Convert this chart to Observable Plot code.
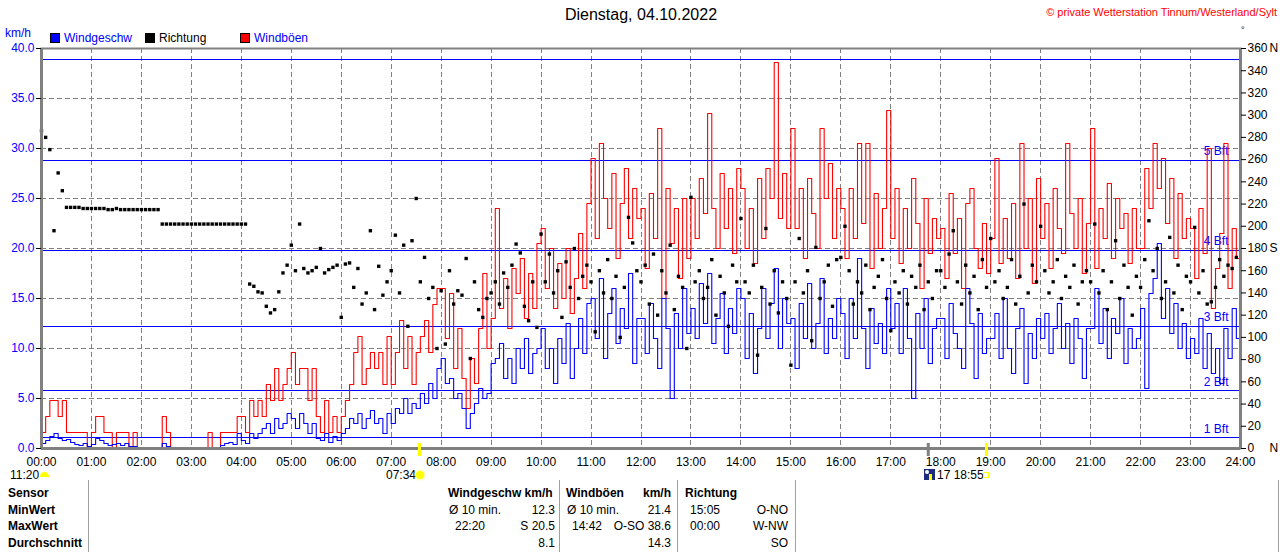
<!DOCTYPE html>
<html><head><meta charset="utf-8">
<script src="https://cdn.jsdelivr.net/npm/d3@7"></script>
<script src="https://cdn.jsdelivr.net/npm/@observablehq/plot@0.6"></script>
<style>
body{margin:0;background:#fff;font-family:"Liberation Sans",Arial,sans-serif;}
#wrap{position:relative;width:1280px;height:552px;overflow:hidden;background:#fff}
#wrap svg{position:absolute;left:0;top:0;overflow:visible}
.t{position:absolute;white-space:nowrap;font-size:12px;line-height:12px;color:#000}
.b{font-weight:bold}
.vl{position:absolute;width:1px;background:#a0a0a0;top:480px;height:72px}
</style></head><body><div id="wrap"></div>
<script>
// ---- data (5-minute samples, 00:00 .. 24:00) ----
const hourLabels = ["00:00","01:00","02:00","03:00","04:00","05:00","06:00","07:00","08:00","09:00","10:00","11:00","12:00","13:00","14:00","15:00","16:00","17:00","18:00","19:00","20:00","21:00","22:00","23:00","24:00"];

// wind speed km/h
const windSpeed = [
 0.5,0.8,1.2,1.5,1.0,0.8,0.9,0.6,0.4,0.3,0.5,0.2,
 0.4,1.0,0.8,0.5,0.3,0.4,0.5,0.3,0.5,0.2,0.2,0.1,
 0,0,0,0,0,0.5,0.2,0,0,0,0,0,
 0,0,0,0,0,0,0,0.3,0.5,0.6,0.4,1.5,
 0.8,0.5,1.5,1.0,1.5,2.0,2.5,1.5,3.0,2.0,2.5,3.5,
 3.0,2.0,3.5,2.5,1.5,2.5,1.0,0.8,1.5,0.6,1.2,0.8,
 1.5,2.0,3.0,2.5,3.5,2.0,3.0,3.8,2.5,3.0,1.5,3.5,
 2.5,4.0,3.5,5.0,3.5,4.5,4.0,5.5,4.5,6.5,5.0,8.0,
 9.0,6.5,7.0,5.0,5.5,4.0,2.0,3.5,4.5,6.0,5.0,5.5,
 8.5,9.0,10.5,7.0,9.0,6.5,10.0,8.0,11.0,7.5,9.5,10.0,
 12.0,8.0,10.0,6.5,11.0,8.5,12.5,7.0,10.0,13.0,9.5,14.5,
 15.0,11.0,17.0,9.0,13.5,16.0,10.5,14.0,12.0,17.5,8.5,13.0,
 13.0,9.5,14.5,11.0,8.0,15.0,12.0,5.0,13.5,10.0,16.0,11.5,
 14.0,11.0,16.5,12.5,17.5,10.5,13.0,15.5,9.5,14.0,11.5,16.0,
 15.0,9.0,13.5,7.5,12.0,16.0,11.0,14.5,18.0,10.0,15.0,12.5,
 13.0,8.0,14.5,11.0,16.5,10.0,12.5,17.0,9.5,13.0,11.0,15.0,
 13.5,9.0,15.0,11.0,19.0,12.0,8.0,14.0,10.5,12.5,9.5,16.0,
 12.0,14.5,9.5,16.0,11.0,5.0,13.5,10.0,15.0,8.5,12.0,13.0,
 13.0,9.0,14.5,11.5,10.0,8.0,16.0,12.5,7.0,13.5,9.5,11.0,
 11.0,13.5,9.0,15.0,10.0,7.5,12.0,14.0,6.5,11.5,9.0,13.0,
 11.0,13.5,9.5,12.0,14.5,10.0,12.5,8.5,13.0,11.0,7.0,12.0,
 12.0,16.0,10.5,14.0,9.0,13.0,11.5,15.0,8.5,12.0,10.0,11.0,
 14.0,6.0,15.5,17.0,20.5,13.0,16.0,11.5,14.5,10.0,12.5,9.0,
 11.0,9.5,13.0,8.0,11.5,7.5,10.0,6.5,12.0,9.0,14.0,11.0,
 13.0
];

// gusts km/h
const windGust = [
 1.6,3.2,4.8,4.8,3.2,4.8,1.6,1.6,1.6,1.6,1.6,0,
 1.6,3.2,3.2,1.6,1.6,0,1.6,1.6,1.6,0,1.6,0,
 0,0,0,0,0,3.2,1.6,0,0,0,0,0,
 0,0,0,0,1.6,0,0,1.6,1.6,1.6,1.6,3.2,
 3.2,1.6,4.8,3.2,4.8,3.2,6.4,4.8,8.0,4.8,6.4,8.0,
 9.6,6.4,8.0,8.0,4.8,8.0,3.2,1.6,4.8,1.6,3.2,1.6,
 3.2,4.8,6.4,9.6,11.2,6.4,8.0,9.6,8.0,9.6,6.4,11.2,
 6.4,9.6,12.8,8.0,11.2,6.4,9.6,11.2,12.8,9.6,14.4,16.0,
 16.0,11.0,15.5,8.0,12.0,7.0,4.0,9.0,6.5,12.0,17.5,10.0,
 13.0,24.0,14.0,17.0,12.0,18.0,15.5,19.0,13.0,17.5,14.0,20.5,
 22.0,16.0,20.0,14.0,18.5,15.0,20.0,13.5,17.0,21.5,16.0,24.5,
 29.0,21.0,30.5,25.0,22.0,27.5,19.0,24.5,28.0,21.0,26.0,23.0,
 24.0,18.0,25.5,21.0,32.0,15.0,26.0,20.5,24.0,17.0,25.0,19.0,
 25.0,21.0,27.0,23.5,33.5,24.0,20.0,27.5,22.0,26.0,19.5,28.0,
 26.0,20.0,24.0,18.5,27.0,21.0,28.0,25.0,38.6,23.0,27.5,22.0,
 32.0,22.0,26.0,19.0,27.0,23.5,20.0,32.0,25.0,28.5,21.0,26.0,
 24.0,19.0,26.0,21.0,30.5,22.5,30.5,18.0,25.5,20.0,24.0,33.8,
 21.0,26.0,18.5,24.0,20.0,27.0,22.5,16.0,25.0,19.5,23.0,21.0,
 22.0,17.0,25.5,19.5,23.0,16.0,24.5,26.0,20.0,18.0,22.5,17.5,
 21.0,29.0,18.5,23.0,19.0,24.5,17.0,30.5,20.0,25.0,16.5,27.0,
 21.0,24.5,18.0,26.0,22.0,19.5,30.5,23.5,20.0,25.0,17.5,22.5,
 32.0,18.0,24.0,21.0,26.5,19.0,25.0,22.0,23.5,18.5,24.0,20.0,
 20.0,28.0,24.0,30.5,26.0,29.0,22.5,27.0,19.0,25.5,21.0,23.0,
 22.0,17.0,24.0,19.5,30.0,14.0,18.0,21.5,30.5,16.0,22.0,19.0,
 22.0
];

// wind direction degrees
const windDir = [
 286,280,269,196,248,232,217,217,217,217,216,216,
 216,216,216,216,215,215,216,215,215,215,215,215,
 215,215,215,215,215,202,202,202,202,202,202,202,
 202,202,202,202,202,202,202,202,202,202,202,202,
 202,202,148,146,141,140,128,122,125,141,158,165,
 183,160,202,162,158,160,163,180,158,161,163,165,
 118,166,167,145,162,130,140,196,125,164,138,150,
 160,192,140,183,110,187,225,150,172,135,145,90,
 142,94,160,130,142,138,171,81,150,125,118,135,
 140,150,130,158,145,165,184,176,128,115,150,109,
 193,150,175,140,160,118,168,145,180,135,155,165,
 150,105,160,140,170,135,155,100,145,208,185,160,
 150,165,130,175,120,160,140,183,125,155,145,90,
 226,150,160,135,145,170,120,155,140,110,165,150,
 207,150,140,165,84,145,198,130,160,122,150,135,
 75,150,189,140,160,97,181,135,150,165,128,170,
 172,200,160,130,150,140,165,125,145,155,170,135,
 106,150,140,160,130,155,145,165,125,150,135,160,
 160,145,175,196,150,130,165,140,155,125,170,145,
 189,150,160,135,145,170,130,155,220,140,165,150,
 200,160,140,150,170,135,155,145,165,130,150,160,
 150,202,140,160,125,150,187,135,165,145,120,155,
 145,170,205,160,180,135,150,190,140,165,125,155,
 150,199,140,160,130,132,145,170,155,165,162,172
];

// Beaufort thresholds (km/h) and labels
const bftValues = [1.08, 5.76, 12.24, 19.8, 28.8, 38.88];
const bftLabels = ["1 Bft","2 Bft","3 Bft","4 Bft","5 Bft",""];
const leftTicks = [0,5,10,15,20,25,30,35,40];
const degTicks = [0,20,40,60,80,100,120,140,160,180,200,220,240,260,280,300,320,340,360];
const degLetters = [{deg:360,l:"N"},{deg:180,l:"S"},{deg:0,l:"N"}];
const sunrise = 7 + 34/60, sunset = 18 + 55/60, moonMark = 17 + 45/60;

// ---- build ----
const rows = windSpeed.map((v, i) => ({t: i / 12, speed: v, gust: windGust[i]}));
const dirRows = windDir.map((v, i) => ({t: i / 12, deg: v}));
const bft = bftValues.map((v, i) => ({v, label: bftLabels[i]}));
const degScale = d => d / 9; // 360° -> 40 km/h

const grey = "#808080";
const chart = Plot.plot({
  width: 1280, height: 475,
  marginLeft: 41, marginRight: 40, marginTop: 48, marginBottom: 27,
  x: {domain: [0, 24], label: null},
  y: {domain: [0, 40], label: null},
  style: {fontFamily: "Liberation Sans, Arial, sans-serif", fontSize: "12px", background: "transparent", overflow: "visible"},
  marks: [
    Plot.ruleX(d3.range(1, 24), {stroke: grey, strokeDasharray: "5,3", shapeRendering: "crispEdges"}),
    Plot.ruleY(leftTicks.filter(d => d > 0 && d < 40), {stroke: grey, strokeDasharray: "5,3", shapeRendering: "crispEdges"}),
    Plot.ruleY(bft, {y: "v", stroke: "#0000ff", strokeWidth: 1, shapeRendering: "crispEdges"}),
    Plot.text(bft, {x: () => 24, y: "v", text: "label", textAnchor: "end", dx: -12, dy: -9, fill: "#0000ff", fontSize: 12}),
    Plot.line(rows, {x: "t", y: "gust", stroke: "#ff0000", strokeWidth: 1.1, curve: "step-after"}),
    Plot.line(rows, {x: "t", y: "speed", stroke: "#0000ff", strokeWidth: 1.1, curve: "step-after"}),
    Plot.dot(dirRows, {x: "t", y: d => degScale(d.deg), symbol: "square", r: 1.9, fill: "#000", stroke: null}),
    Plot.frame({stroke: grey, strokeWidth: 2}),
    Plot.ruleX([0, 24], {stroke: grey, strokeWidth: 3}),
    Plot.ruleY([0], {stroke: grey, strokeWidth: 3}),
    Plot.axisY({anchor: "left", label: null, ticks: leftTicks, tickFormat: d => d.toFixed(1), tickSize: 5, tickPadding: 2, fill: "#0000ff", stroke: "#000", fontSize: 12}),
    Plot.axisY({anchor: "right", label: null, ticks: degTicks.map(degScale), tickFormat: d => String(Math.round(d * 9)), tickSize: 5, tickPadding: 2, fill: "#000", stroke: "#000", fontSize: 12}),
    Plot.text(degLetters, {x: () => 24, y: d => degScale(d.deg), text: "l", textAnchor: "start", dx: 29, fill: "#000", fontSize: 12}),
    Plot.axisX({anchor: "bottom", label: null, ticks: d3.range(0, 25), tickFormat: i => hourLabels[i], tickSize: 0, tickPadding: 9, fill: "#000", fontSize: 12}),
    Plot.ruleX([sunrise, sunset], {y1: 0.5, y2: -0.8, stroke: "#ffff00", strokeWidth: 3}),
    Plot.ruleX([moonMark], {y1: 0.5, y2: -0.8, stroke: grey, strokeWidth: 3})
  ]
});
const wrap = document.getElementById("wrap");
wrap.appendChild(chart);

function txt(s, x, yc, opts = {}) {
  const d = document.createElement("div");
  d.className = "t" + (opts.bold ? " b" : "");
  d.textContent = s;
  d.style.top = (yc - 6) + "px";
  if (opts.right) d.style.right = (1280 - x) + "px"; else d.style.left = x + "px";
  if (opts.color) d.style.color = opts.color;
  if (opts.size) { d.style.fontSize = opts.size + "px"; }
  wrap.appendChild(d);
  return d;
}
function box(x, y, w, h, css) {
  const d = document.createElement("div");
  d.style.cssText = `position:absolute;left:${x}px;top:${y}px;width:${w}px;height:${h}px;` + css;
  wrap.appendChild(d);
  return d;
}

// title & header
const title = txt("Dienstag, 04.10.2022", 641, 16, {size: 16});
title.style.left = "0"; title.style.width = "1282px"; title.style.textAlign = "center"; title.style.lineHeight = "16px"; title.style.top = "7px";
txt("© private Wetterstation Tinnum/Westerland/Sylt", 1277, 12, {right: true, color: "#ff0000", size: 11});
txt("°", 1241, 30, {size: 9});
txt("km/h", 5, 33, {color: "#0000ff"});
// legend
box(50, 33, 10, 10, "background:#0000ff;border:1px solid #000;box-sizing:border-box");
txt("Windgeschw", 64, 38, {color: "#0000ff"});
box(145, 33, 10, 10, "background:#000;border:1px solid #000;box-sizing:border-box");
txt("Richtung", 159, 38);
box(240, 33, 10, 10, "background:#ff0000;border:1px solid #000;box-sizing:border-box");
txt("Windböen", 254, 38, {color: "#0000ff"});

// sun / moon annotations
txt("11:20", 10, 475);
box(40, 472, 9, 5, "background:#ffff00;border-radius:5px 5px 0 0");
txt("07:34", 386, 475);
box(416, 471, 8, 8, "background:#ffff00;border-radius:50%;box-shadow:0 0 2px 1px #ffff80");
box(924, 469, 11, 11, "background:#1c2a80");
box(925, 470, 4, 4, "background:#fff;border-radius:50%");
box(929, 474, 3, 6, "background:#ffff00");
txt("17 18:55", 937, 475);
box(983, 472, 6, 6, "border:1px solid #ffff00;box-sizing:border-box");

// table
[["Sensor",493],["MinWert",510],["MaxWert",526],["Durchschnitt",543]].forEach(([s,y]) => txt(s, 8, y, {bold: true}));
[88, 559, 677, 795, 1278].forEach(x => { const v = document.createElement("div"); v.className = "vl"; v.style.left = x + "px"; wrap.appendChild(v); });
txt("Windgeschw km/h", 448, 493, {bold: true});
txt("Ø 10 min.", 449, 510); txt("12.3", 555, 510, {right: true});
txt("22:20", 455, 526); txt("S 20.5", 555, 526, {right: true});
txt("8.1", 555, 543, {right: true});
txt("Windböen", 566, 493, {bold: true}); txt("km/h", 671, 493, {bold: true, right: true});
txt("Ø 10 min.", 567, 510); txt("21.4", 671, 510, {right: true});
txt("14:42", 572, 526); txt("O-SO 38.6", 671, 526, {right: true});
txt("14.3", 671, 543, {right: true});
txt("Richtung", 685, 493, {bold: true});
txt("15:05", 690, 510); txt("O-NO", 788, 510, {right: true});
txt("00:00", 690, 526); txt("W-NW", 788, 526, {right: true});
txt("SO", 788, 543, {right: true});
</script></body></html>
